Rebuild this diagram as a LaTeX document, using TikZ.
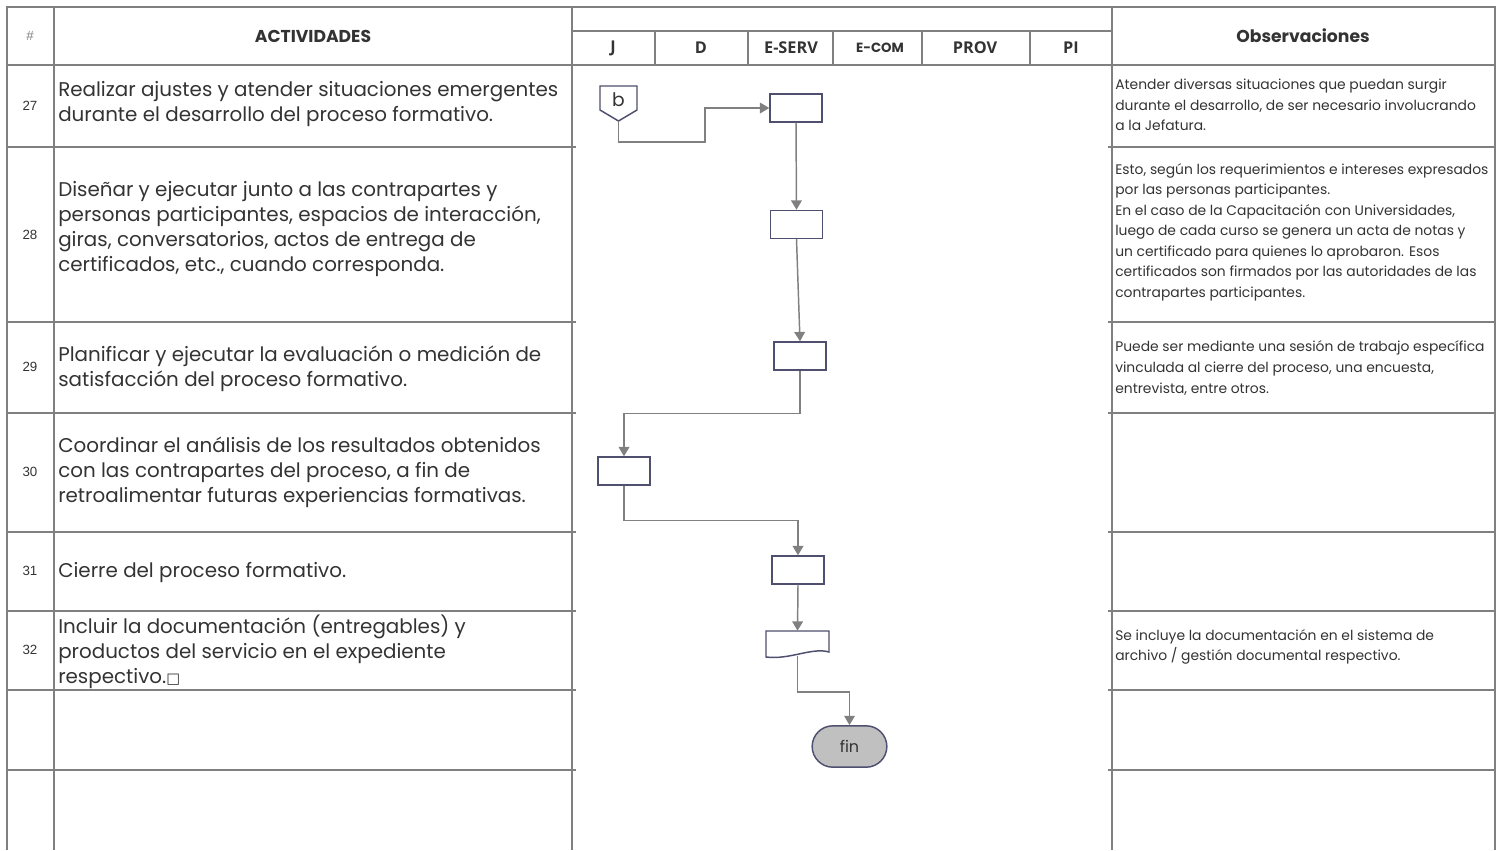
\documentclass[tikz,border=0pt]{standalone}
\usepackage{fontspec}
\setmainfont{Poppins}
\newfontfamily\cifras{Liberation Sans}
\newfontfamily\carriles{Open Sans}
\newfontfamily\simbolos{DejaVu Sans}
\usetikzlibrary{shapes,positioning,arrows.meta}
\definecolor{lineagris}{HTML}{808080}
\definecolor{borde}{HTML}{4F4F6F}
\definecolor{texto}{HTML}{333333}
\definecolor{relleno}{HTML}{C0C0C0}
\tikzset {
tabla/.style={draw=lineagris,line width=1.6pt},
paso/.style={shape=rectangle,draw=borde,line width=1.1pt,fill=white,minimum width=39pt,minimum height=21pt,inner sep=0pt},
forma/.style={draw=borde,line width=1.1pt,fill=white},
flujo/.style={draw=lineagris,line width=1.1pt},
actividad/.style={anchor=west,align=left,inner sep=0pt,font=\fontsize{14.9}{18.75}\selectfont,text=texto},
nota/.style={anchor=west,align=left,inner sep=0pt,font=\fontsize{10.4}{15.4}\selectfont,text=texto},
numero/.style={font=\cifras\fontsize{10}{12}\selectfont,text=texto},
titulo/.style={font=\bfseries\fontsize{12.9}{15}\selectfont,text=texto},
carril/.style={font=\carriles\bfseries\fontsize{12.2}{14}\selectfont,text=texto}
}

\begin{document}
\begin{tikzpicture}
[x=0.75pt,y=-0.75pt,>={Triangle[length=7pt,width=8pt]}]
\useasboundingbox (0,0) rectangle (1502,850);
% rejilla de la tabla
\draw[tabla] (7,850) -- (7,7) -- (1495,7) -- (1495,850);
\draw[tabla] (54,7) -- (54,850);
\draw[tabla] (572,7) -- (572,850);
\draw[tabla] (1112,7) -- (1112,850);
\draw[tabla] (572,31) -- (1112,31);
\draw[tabla] (7,65) -- (1495,65);
\foreach \y in {147,322,413,532,611,690,770} {
  \draw[tabla] (7,\y) -- (576,\y);
  \draw[tabla] (1108,\y) -- (1495,\y);
}
\foreach \x in {655,748,833,922,1030}
  \draw[tabla] (\x,31) -- (\x,65);

% encabezados
\node[numero,text=lineagris] (almohadilla) at (30,36) {\#};
\node[titulo] (actividades) at (313,36) {ACTIVIDADES};
\node[titulo] (observaciones) at (1303,36) {Observaciones};
\node[carril] (j) at (613,48) {J};
\node[carril] (d) at (701,48) {D};
\node[carril] (eserv) at (791,48) {E-SERV};
\node[carril,font=\bfseries\fontsize{10}{12}\selectfont] (ecom) at (880,48) {E-COM};
\node[carril] (prov) at (975,48) {PROV};
\node[carril] (pi) at (1071,48) {PI};

% numeros de fila
\foreach \y/\n in {106/27,234.5/28,367/29,472/30,571/31,650/32}
  \node[numero] (num\n) at (30,\y) {\n};

% actividades
\node[actividad] (act27) at (58,104) {Realizar ajustes y atender situaciones emergentes\\durante el desarrollo del proceso formativo.};
\node[actividad] (act28) at (58,229) {Diseñar y ejecutar junto a las contrapartes y\\personas participantes, espacios de interacción,\\giras, conversatorios, actos de entrega de\\certificados, etc., cuando corresponda.};
\node[actividad] (act29) at (58,369) {Planificar y ejecutar la evaluación o medición de\\satisfacción del proceso formativo.};
\node[actividad] (act30) at (58,472) {Coordinar el análisis de los resultados obtenidos\\con las contrapartes del proceso, a fin de\\retroalimentar futuras experiencias formativas.};
\node[actividad] (act31) at (58,572) {Cierre del proceso formativo.};
\node[actividad] (act32) at (58,652) {Incluir la documentación (entregables) y\\productos del servicio en el expediente\\respectivo.{\simbolos\fontsize{11}{13}\selectfont □}};

% observaciones
\node[nota] (obs27) at (1115,105) {Atender diversas situaciones que puedan surgir\\durante el desarrollo, de ser necesario involucrando\\a la Jefatura.};
\node[nota] (obs28) at (1115,232) {Esto, según los requerimientos e intereses expresados\\por las personas participantes.\\En el caso de la Capacitación con Universidades,\\luego de cada curso se genera un acta de notas y\\un certificado para quienes lo aprobaron. Esos\\certificados son firmados por las autoridades de las\\contrapartes participantes.};
\node[nota] (obs29) at (1115,368) {Puede ser mediante una sesión de trabajo específica\\vinculada al cierre del proceso, una encuesta,\\entrevista, entre otros.};
\node[nota] (obs32) at (1115,647) {Se incluye la documentación en el sistema de\\archivo / gestión documental respectivo.};

% diagrama de flujo
\draw[forma] (600,86) -- (637,86) -- (637,110) -- (618.5,121) -- (600,110) -- cycle;
\node[font=\fontsize{14}{16}\selectfont,text=texto] (enlace) at (618.5,100) {b};
\coordinate (punta) at (618.5,121);
\coordinate (codo) at (705,142);
\node[paso] (paso27) at (796,108) {};
\node[paso] (paso28) at (796.5,224.5) {};
\node[paso] (paso29) at (800,356) {};
\node[paso] (paso30) at (624,471) {};
\node[paso] (paso31) at (798,570) {};
\node[minimum width=47pt,minimum height=19.5pt,inner sep=0pt] (doc32) at (797.5,644) {};
\draw[forma] (766,657) -- (766,631) -- (829,631) -- (829,652)
  .. controls (812,647) and (790,660) .. (766,657) -- cycle;
\node[shape=rounded rectangle,draw=borde,line width=1.1pt,fill=relleno,minimum width=56pt,minimum height=31pt,inner sep=0pt,font=\fontsize{12}{14}\selectfont,text=texto] (fin) at (849.5,746.5) {fin};

\draw[flujo,->] (punta) |- (codo) |- (paso27.west);
\draw[flujo,->] (paso27.south) -- (paso28.north);
\draw[flujo,->] (paso28.south) -- (paso29.north);
\draw[flujo,->] (paso29.south) -- ++(0,43) -| (paso30.north);
\draw[flujo,->] (paso30.south) -- ++(0,35) -| (paso31.north);
\draw[flujo,->] (paso31.south) -- (doc32.north);
\draw[flujo,->] (797.5,656) -- ++(0,36) -| (fin.north);
\end{tikzpicture}
\end{document}
